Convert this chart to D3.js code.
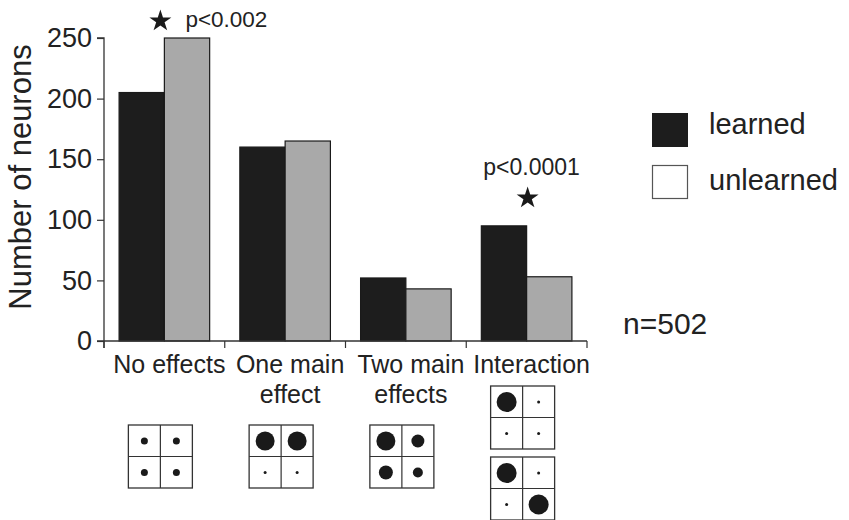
<!DOCTYPE html>
<html>
<head>
<meta charset="utf-8">
<script src="https://cdn.jsdelivr.net/npm/d3@7"></script>
<style>
  html, body { margin: 0; padding: 0; background: #fff; }
  svg { display: block; font-family: "Liberation Sans", Arial, sans-serif; }
</style>
</head>
<body>
<svg id="chart" width="849" height="520"></svg>
<script>
// Neuron counts per response type
const categories = ["No effects", "One main effect", "Two main effects", "Interaction"];
const categoryLines = [["No effects"], ["One main", "effect"], ["Two main", "effects"], ["Interaction"]];
const series = ["learned", "unlearned"];
const learned = [205, 160, 52, 95];
const unlearned = [250, 165, 43, 53];
const yTicks = [0, 50, 100, 150, 200, 250];
const sampleSize = "n=502";
const pNotes = [
  { category: "No effects", text: "p<0.002" },
  { category: "Interaction", text: "p<0.0001" }
];
// Schematic 2x2 response grids under each category (dot radii: TL, TR, BL, BR)
const grids = [
  [[3.5, 3.5, 3.5, 3.5]],
  [[9.5, 9.5, 1.5, 1.5]],
  [[9.5, 6.5, 7, 5]],
  [[10, 1.5, 1.5, 1.5], [10, 1.5, 1.5, 10]]
];

const colors = { learned: "#1d1d1d", unlearned: "#a9a9a9" };
const ink = "#222";

const svg = d3.select("#chart");

const x0 = d3.scaleBand().domain(categories).range([104, 587])
  .paddingInner(0.25).paddingOuter(0.125);
const x1 = d3.scaleBand().domain(series).range([0, x0.bandwidth()]);
const y = d3.scaleLinear().domain([0, 250]).range([341, 38]);

const data = categories.map((c, i) => ({ category: c, learned: learned[i], unlearned: unlearned[i] }));

// Bars
const groups = svg.append("g").selectAll("g").data(data).join("g")
  .attr("transform", d => `translate(${x0(d.category)},0)`);
groups.selectAll("rect")
  .data(d => series.map(s => ({ key: s, value: d[s] })))
  .join("rect")
  .attr("x", d => x1(d.key))
  .attr("y", d => y(d.value))
  .attr("width", x1.bandwidth())
  .attr("height", d => y(0) - y(d.value))
  .attr("fill", d => colors[d.key])
  .attr("stroke", "#1a1a1a")
  .attr("stroke-width", 1.2);

// Y axis
const yAxis = svg.append("g").attr("transform", "translate(104,0)")
  .call(d3.axisLeft(y).tickValues(yTicks).tickSize(7).tickPadding(5));
yAxis.select(".domain").attr("stroke", "#333").attr("stroke-width", 1.3)
  .attr("d", `M-7,${y(250)}H0V${y(0) + 7}`);
yAxis.selectAll(".tick line").attr("stroke", "#333").attr("stroke-width", 1.2);
yAxis.selectAll(".tick text").attr("fill", ink).attr("font-size", 27)
  .attr("font-family", "'Liberation Sans', Arial, sans-serif");

// X axis with ticks at category boundaries
const step = x0.step();
const xStart = x0.range()[0];
svg.append("line").attr("x1", 97).attr("x2", x0.range()[1])
  .attr("y1", y(0)).attr("y2", y(0)).attr("stroke", "#333").attr("stroke-width", 1.3);
svg.append("g").selectAll("line").data(d3.range(categories.length + 1)).join("line")
  .attr("x1", i => xStart + i * step).attr("x2", i => xStart + i * step)
  .attr("y1", y(0)).attr("y2", y(0) + 7)
  .attr("stroke", "#333").attr("stroke-width", 1.2);

// Category labels
categoryLines.forEach((lines, i) => {
  const cx = x0(categories[i]) + x0.bandwidth() / 2 + 5;
  lines.forEach((t, j) => {
    svg.append("text").attr("x", cx).attr("y", 373 + j * 30)
      .attr("text-anchor", "middle").attr("font-size", 25).attr("fill", ink).text(t);
  });
});

// Y-axis title
svg.append("text").attr("transform", "translate(31,177) rotate(-90)")
  .attr("text-anchor", "middle").attr("font-size", 31).attr("fill", ink)
  .text("Number of neurons");

// Significance markers
const star = d3.symbol().type(d3.symbolStar).size(150);
{
  const c = pNotes[0].category;
  const sx = x0(c) + x0.bandwidth() / 2 - 4;
  svg.append("path").attr("d", star).attr("transform", `translate(${sx},21)`).attr("fill", "#1a1a1a");
  svg.append("text").attr("x", sx + 25).attr("y", 27).attr("font-size", 22.5).attr("fill", ink).text(pNotes[0].text);
}
{
  const c = pNotes[1].category;
  const sx = x0(c) + x0.bandwidth() / 2 + 1;
  svg.append("path").attr("d", star).attr("transform", `translate(${sx},198)`).attr("fill", "#1a1a1a");
  svg.append("text").attr("x", sx + 4).attr("y", 175).attr("text-anchor", "middle")
    .attr("font-size", 23).attr("fill", ink).text(pNotes[1].text);
}

// Legend
const legend = svg.append("g");
legend.append("rect").attr("x", 652).attr("y", 113).attr("width", 36).attr("height", 34)
  .attr("fill", colors.learned);
legend.append("rect").attr("x", 652.5).attr("y", 165.5).attr("width", 35).attr("height", 33)
  .attr("fill", "#fff").attr("stroke", "#555").attr("stroke-width", 1.2);
legend.append("text").attr("x", 709).attr("y", 134).attr("font-size", 29).attr("fill", ink).text(series[0]);
legend.append("text").attr("x", 709).attr("y", 190).attr("font-size", 29).attr("fill", ink).text(series[1]);

svg.append("text").attr("x", 623).attr("y", 334).attr("font-size", 30).attr("fill", ink).text(sampleSize);

// Response-pattern grids
const cell = 32;
grids.forEach((list, i) => {
  const cx = x0(categories[i]) + x0.bandwidth() / 2 - 4;
  list.forEach((radii, k) => {
    const top = list.length === 1 ? 425 : 386 + k * 71;
    const g = svg.append("g").attr("transform", `translate(${cx - cell},${top})`);
    g.append("rect").attr("width", cell * 2).attr("height", cell * 2 - 1)
      .attr("fill", "#fff").attr("stroke", "#333").attr("stroke-width", 1.3);
    g.append("line").attr("x1", cell).attr("x2", cell).attr("y1", 0).attr("y2", cell * 2 - 1)
      .attr("stroke", "#333").attr("stroke-width", 1.2);
    g.append("line").attr("x1", 0).attr("x2", cell * 2).attr("y1", cell - 0.5).attr("y2", cell - 0.5)
      .attr("stroke", "#333").attr("stroke-width", 1.2);
    g.selectAll("circle").data(radii).join("circle")
      .attr("cx", (d, j) => (j % 2) * cell + cell / 2)
      .attr("cy", (d, j) => Math.floor(j / 2) * (cell - 0.5) + cell / 2)
      .attr("r", d => d).attr("fill", "#1a1a1a");
  });
});
</script>
</body>
</html>
